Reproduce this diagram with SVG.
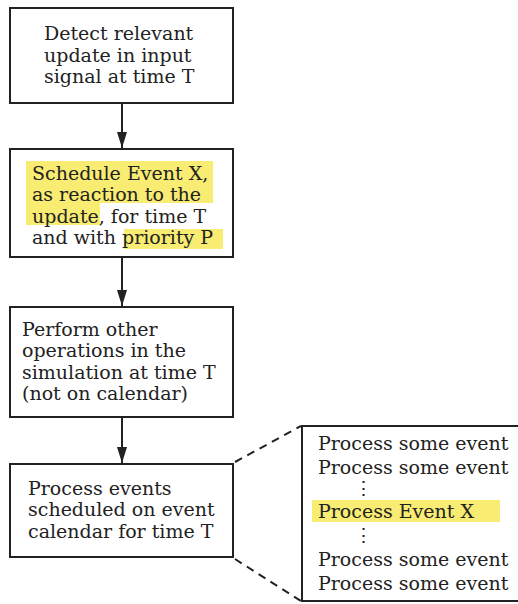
<svg xmlns="http://www.w3.org/2000/svg" width="518" height="604" viewBox="0 0 518 604">
<style>
.box{fill:#fff;stroke:#222;stroke-width:2}
.t{font-family:"DejaVu Serif","Liberation Serif",serif;font-size:19px;fill:#222}
.hl{fill:#f8ec72}
.conn{stroke:#222;stroke-width:2;fill:none}
.dash{stroke:#222;stroke-width:2;fill:none;stroke-dasharray:8 6}
</style>
<defs>
<marker id="ah" markerWidth="16" markerHeight="10" refX="16" refY="5" orient="auto" markerUnits="userSpaceOnUse" viewBox="0 0 16 10">
<path d="M0,0 L16,5 L0,10 Z" fill="#222"/>
</marker>
</defs>
<rect width="518" height="604" fill="#fff"/>
<g id="connectors">
<line class="conn" x1="122" y1="103" x2="122" y2="148" marker-end="url(#ah)"/>
<line class="conn" x1="122" y1="257" x2="122" y2="306" marker-end="url(#ah)"/>
<line class="conn" x1="122" y1="417" x2="122" y2="463" marker-end="url(#ah)"/>
<line class="dash" x1="235" y1="462" x2="301" y2="426"/>
<line class="dash" x1="235" y1="559" x2="301" y2="601"/>
</g>
<g id="node1">
<rect class="box" x="10" y="8" width="223" height="95"/>
<text class="t" x="44" y="40">Detect relevant</text>
<text class="t" x="44" y="61.5">update in input</text>
<text class="t" x="44" y="83">signal at time T</text>
</g>
<g id="node2">
<rect class="box" x="10" y="149" width="223" height="108"/>
<rect class="hl" x="26" y="161" width="187" height="42"/>
<rect class="hl" x="26" y="203" width="74" height="22"/>
<rect class="hl" x="124" y="229" width="99" height="20"/>
<text class="t" x="32" y="180">Schedule Event X,</text>
<text class="t" x="32" y="201">as reaction to the</text>
<text class="t" x="32" y="222.5">update, for time T</text>
<text class="t" x="32" y="243.5">and with priority P</text>
</g>
<g id="node3">
<rect class="box" x="10" y="307" width="223" height="110"/>
<text class="t" x="22" y="336">Perform other</text>
<text class="t" x="22" y="357">operations in the</text>
<text class="t" x="22" y="378.5">simulation at time T</text>
<text class="t" x="22" y="399.5">(not on calendar)</text>
</g>
<g id="node4">
<rect class="box" x="10" y="464" width="223" height="93"/>
<text class="t" x="28" y="495">Process events</text>
<text class="t" x="28" y="516">scheduled on event</text>
<text class="t" x="28" y="537.5">calendar for time T</text>
</g>
<g id="calendar">
<path class="box" d="M530,426 H302 V601 H530"/>
<rect class="hl" x="312" y="500" width="188" height="22"/>
<text class="t" x="318" y="449.5">Process some event</text>
<text class="t" x="318" y="473.5">Process some event</text>
<text class="t" x="354" y="495">⋮</text>
<text class="t" x="318" y="518">Process Event X</text>
<text class="t" x="354" y="542">⋮</text>
<text class="t" x="318" y="565.5">Process some event</text>
<text class="t" x="318" y="590">Process some event</text>
</g>
</svg>
